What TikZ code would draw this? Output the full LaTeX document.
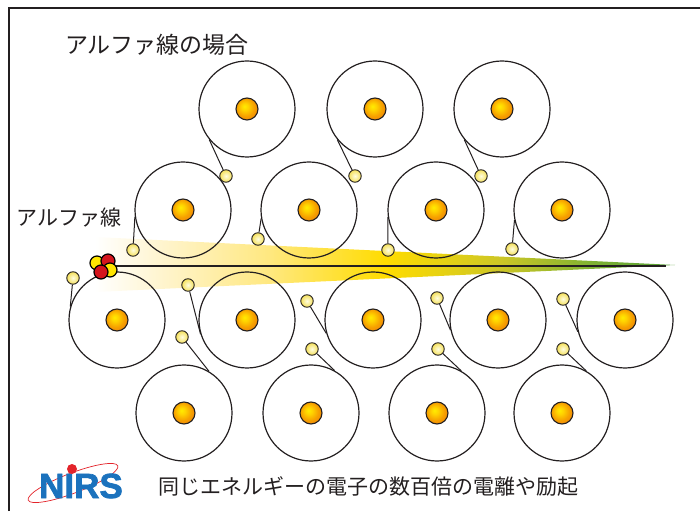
\documentclass[tikz,border=0pt]{standalone}
\usepackage{fontspec}
\newfontfamily\jp{Noto Sans CJK JP}
\newfontfamily\logofont[BoldFeatures={FakeBold=2}]{Liberation Sans}

\definecolor{ink}{HTML}{231F20}
\definecolor{elecin}{HTML}{FFFDE0}
\definecolor{elecout}{HTML}{F4E05A}
\definecolor{alphayellow}{HTML}{FFE500}
\definecolor{alphared}{HTML}{D4151D}
\definecolor{logoblue}{HTML}{1B72BD}
\definecolor{logored}{HTML}{E3242B}

% yellow -> green trail of the track
\pgfdeclarehorizontalshading{ionise}{100bp}{color(0bp)=(white); color(25bp)=(white);
  color(31bp)=(rgb,255:red,255;green,244;blue,204); color(40bp)=(rgb,255:red,255;green,232;blue,128);
  color(50bp)=(rgb,255:red,255;green,220;blue,0); color(60bp)=(rgb,255:red,205;green,198;blue,38);
  color(68bp)=(rgb,255:red,125;green,178;blue,50); color(75bp)=(rgb,255:red,85;green,160;blue,55);
  color(100bp)=(rgb,255:red,85;green,160;blue,55)}
% nucleus, lit from the upper left
\pgfdeclareradialshading{nucleusfill}{\pgfpoint{-6bp}{6bp}}{color(0bp)=(rgb,255:red,255;green,236;blue,0);
  color(8bp)=(rgb,255:red,255;green,210;blue,0); color(20bp)=(rgb,255:red,246;green,160;blue,0);
  color(32bp)=(rgb,255:red,238;green,128;blue,10); color(50bp)=(rgb,255:red,238;green,128;blue,10)}

\begin{document}
\begin{tikzpicture}[x=1pt,y=1pt,
  orbit/.style={circle,draw=ink,line width=1.2pt,minimum size=96pt,inner sep=0pt},
  nucleus/.style={circle,draw=ink,line width=1.1pt,minimum size=22pt,inner sep=0pt,shading=nucleusfill},
  electron/.style={circle,draw=ink,line width=0.9pt,minimum size=12.5pt,inner sep=0pt,inner color=elecin,outer color=elecout},
  alphay/.style={circle,draw=black,line width=1.2pt,minimum size=14pt,inner sep=0pt,fill=alphayellow},
  alphar/.style={circle,draw=black,line width=1.2pt,minimum size=14pt,inner sep=0pt,fill=alphared},
  tie/.style={draw=ink,line width=1pt},
  caption/.style={text=ink,inner sep=0pt,font=\jp\fontsize{21}{25}\selectfont}]
\useasboundingbox (0,0) rectangle (700,511);
%
\draw[ink,line width=2pt] (9,0) -- (9,503) -- (700,503);
%
% trail and track
\shade[shading=ionise] (95,274) -- (675,246) -- (95,219) -- cycle;
\coordinate (src) at (106,245);
\coordinate (tip) at (666,245);
\draw[ink,line width=1.5pt] (src) -- (tip);
%
% top row
\node[orbit] (o1) at (247,402) {};
\node[nucleus] (n1) at (o1) {};
\node[electron] (e1) at (226,335) {};
\draw[tie] (o1.219) -- (e1);
\node[orbit] (o2) at (375,402) {};
\node[nucleus] (n2) at (o2) {};
\node[electron] (e2) at (355,335) {};
\draw[tie] (o2.219) -- (e2);
\node[orbit] (o3) at (502,402) {};
\node[nucleus] (n3) at (o3) {};
\node[electron] (e3) at (481,335) {};
\draw[tie] (o3.219) -- (e3);
%
% second row
\node[orbit] (o4) at (183,301) {};
\node[nucleus] (n4) at (o4) {};
\node[electron] (e4) at (133,261) {};
\draw[tie] (o4.188) -- (e4);
\node[orbit] (o5) at (309,301) {};
\node[nucleus] (n5) at (o5) {};
\node[electron] (e5) at (258,272) {};
\draw[tie] (o5.190) -- (e5);
\node[orbit] (o6) at (436,301) {};
\node[nucleus] (n6) at (o6) {};
\node[electron] (e6) at (388,261) {};
\draw[tie] (o6.188) -- (e6);
\node[orbit] (o7) at (562,301) {};
\node[nucleus] (n7) at (o7) {};
\node[electron] (e7) at (512,262) {};
\draw[tie] (o7.192) -- (e7);
%
% third row
\node[orbit] (o8) at (117,191) {};
\node[nucleus] (n8) at (o8) {};
\node[electron] (e8) at (73,233) {};
\draw[tie] (o8.164) -- (e8);
\node[orbit] (o9) at (247,191) {};
\node[nucleus] (n9) at (o9) {};
\node[electron] (e9) at (188,226) {};
\draw[tie] (o9.197) -- (e9);
\node[orbit] (o10) at (373,191) {};
\node[nucleus] (n10) at (o10) {};
\node[electron] (e10) at (307,210) {};
\draw[tie] (o10.196) -- (e10);
\node[orbit] (o11) at (498,191) {};
\node[nucleus] (n11) at (o11) {};
\node[electron] (e11) at (437,213) {};
\draw[tie] (o11.192) -- (e11);
\node[orbit] (o12) at (625,191) {};
\node[nucleus] (n12) at (o12) {};
\node[electron] (e12) at (563,212) {};
\draw[tie] (o12.194) -- (e12);
%
% bottom row
\node[orbit] (o13) at (184,98) {};
\node[nucleus] (n13) at (o13) {};
\node[electron] (e13) at (182,174) {};
\draw[tie] (o13.59) -- (e13);
\node[orbit] (o14) at (311,98) {};
\node[nucleus] (n14) at (o14) {};
\node[electron] (e14) at (312,162) {};
\draw[tie] (o14.61) -- (e14);
\node[orbit] (o15) at (437,98) {};
\node[nucleus] (n15) at (o15) {};
\node[electron] (e15) at (438,162) {};
\draw[tie] (o15.60) -- (e15);
\node[orbit] (o16) at (562,98) {};
\node[nucleus] (n16) at (o16) {};
\node[electron] (e16) at (563,162) {};
\draw[tie] (o16.60) -- (e16);
%
% alpha particle: 2p + 2n
\node[alphay] (p1) at (97,248) {};
\node[alphar] (p2) at (108,250) {};
\node[alphay] (p3) at (110,241) {};
\node[alphar] (p4) at (101,239) {};
%
% texts
\node[caption,font=\jp\fontsize{23}{27}\selectfont] (title) at (157,466) {アルファ線の場合};
\node[caption] (alphalbl) at (69,293) {アルファ線};
\node[caption] (note) at (368,25) {同じエネルギーの電子の数百倍の電離や励起};
%
% logo
\draw[logored,line width=0.7pt,rotate around={21:(73,28)}] (73,28) ellipse [x radius=48,y radius=10];
\node[text=logoblue,inner sep=0pt,font=\logofont\bfseries\fontsize{35}{35}\selectfont] (nirs) at (81,25) {NIRS};
\node[circle,fill=logored,minimum size=10pt,inner sep=0pt] (dot) at (72,42) {};
\end{tikzpicture}
\end{document}
